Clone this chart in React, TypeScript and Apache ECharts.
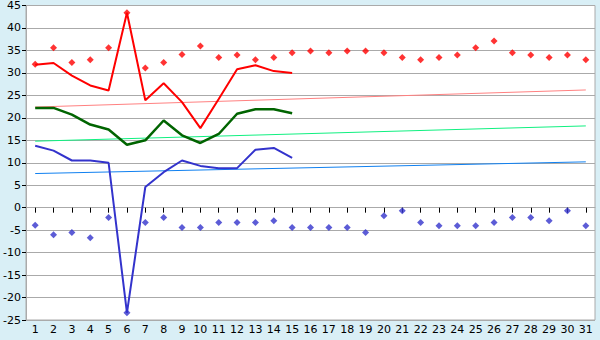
import React, { useEffect, useRef } from "react";
import * as echarts from "echarts";

const days = Array.from({ length: 31 }, (_, i) => String(i + 1));

const maxPoints = [31.9, 35.6, 32.3, 32.9, 35.6, 43.4, 31.1, 32.3, 34.1, 36.0, 33.4, 34.0, 32.9, 33.4, 34.5, 34.9, 34.5, 34.9, 34.9, 34.5, 33.4, 32.9, 33.4, 34.0, 35.6, 37.1, 34.5, 34.0, 33.4, 34.0, 32.9];
const minPoints = [-3.9, -6.0, -5.5, -6.7, -2.2, -23.4, -3.3, -2.2, -4.4, -4.4, -3.3, -3.3, -3.3, -2.9, -4.4, -4.4, -4.4, -4.4, -5.5, -1.8, -0.7, -3.3, -4.0, -4.0, -4.0, -3.3, -2.2, -2.2, -2.9, -0.7, -4.0];

const maxLine = [31.8, 32.2, 29.4, 27.2, 26.1, 43.4, 23.9, 27.7, 23.5, 17.7, 24.2, 30.8, 31.7, 30.4, 30.0];
const meanLine = [22.2, 22.2, 20.7, 18.5, 17.4, 14.0, 15.0, 19.4, 16.1, 14.4, 16.4, 20.9, 21.9, 21.9, 21.0];
const minLine = [13.8, 12.7, 10.5, 10.5, 10.0, -23.4, 4.6, 7.9, 10.5, 9.3, 8.8, 8.8, 12.9, 13.3, 11.1];

// trend lines: value at first day and last day
const maxTrend = [22.4, 26.2];
const meanTrend = [14.8, 18.2];
const minTrend = [7.6, 10.2];

const yTicks = { min: -25, max: 45, interval: 5 };

const trendData = (t: number[]) => [[days[0], t[0]], [days[days.length - 1], t[1]]];

export default function App() {
  const ref = useRef<HTMLDivElement>(null);
  useEffect(() => {
    document.body.style.margin = "0";
    const chart = echarts.init(ref.current!, null, { renderer: "svg" });
    const font = "DejaVu Sans";
    chart.setOption({
      animation: false,
      backgroundColor: "#d9eff6",
      grid: {
        left: 26, top: 5, right: 5, bottom: 20,
        show: true, backgroundColor: "#ffffff", borderColor: "#aaaaaa", borderWidth: 1,
      },
      xAxis: {
        type: "category",
        data: days,
        boundaryGap: true,
        axisLine: { show: true, lineStyle: { color: "#aaaaaa" } },
        axisTick: { show: true, alignWithLabel: true, length: 5, lineStyle: { color: "#000" } },
        axisLabel: { color: "#000", fontFamily: font, fontSize: 11, margin: 4, interval: 0 },
        splitLine: { show: false },
      },
      yAxis: {
        type: "value",
        min: yTicks.min, max: yTicks.max, interval: yTicks.interval,
        axisLine: { show: true, lineStyle: { color: "#aaaaaa" } },
        axisTick: { show: true, length: 4, inside: false, lineStyle: { color: "#000" } },
        axisLabel: { color: "#000", fontFamily: font, fontSize: 11, margin: 5 },
        splitLine: { show: true, lineStyle: { color: "#aaaaaa", width: 1 } },
      },
      series: [
        { type: "line", data: trendData(maxTrend), symbol: "none", lineStyle: { color: "#ff8080", width: 1 }, z: 1 },
        { type: "line", data: trendData(meanTrend), symbol: "none", lineStyle: { color: "#10f080", width: 1 }, z: 1 },
        { type: "line", data: trendData(minTrend), symbol: "none", lineStyle: { color: "#1080f0", width: 1 }, z: 1 },
        { type: "line", data: maxLine, symbol: "none", lineStyle: { color: "#ff0000", width: 2 }, z: 2 },
        { type: "line", data: meanLine, symbol: "none", lineStyle: { color: "#006400", width: 2.5 }, z: 2 },
        { type: "line", data: minLine, symbol: "none", lineStyle: { color: "#3333cc", width: 2 }, z: 2 },
        { type: "scatter", data: maxPoints, symbol: "diamond", symbolSize: 7, itemStyle: { color: "#ff0000" }, z: 3 },
        { type: "scatter", data: minPoints, symbol: "diamond", symbolSize: 7, itemStyle: { color: "#3333cc" }, z: 3 },
      ],
    });
    return () => chart.dispose();
  }, []);
  return <div ref={ref} style={{ width: 600, height: 340 }} />;
}
